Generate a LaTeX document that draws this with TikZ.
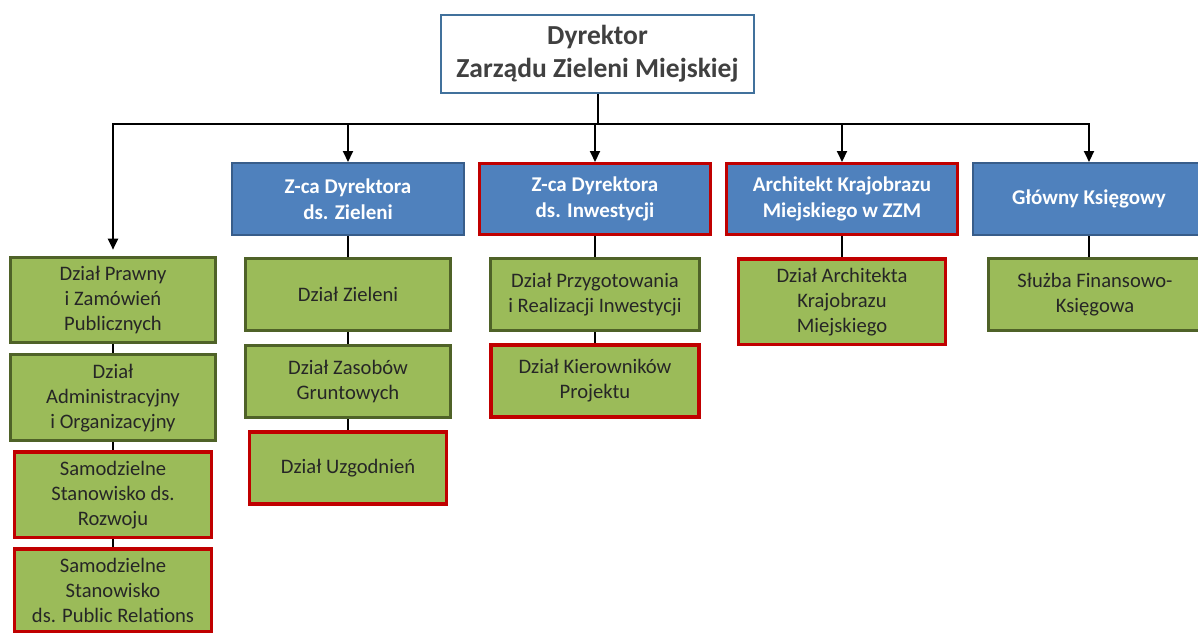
\documentclass[tikz,border=0pt]{standalone}
\usepackage{fontspec}
\setmainfont{Carlito}
\usepackage{tikz}
\usetikzlibrary{positioning,arrows.meta}
\usepackage{xcolor}
\definecolor{DirBlue}{RGB}{65,113,156}
\definecolor{HeadBlue}{RGB}{79,129,189}
\definecolor{HeadEdge}{RGB}{56,93,138}
\definecolor{UnitGreen}{RGB}{155,187,89}
\definecolor{UnitEdge}{RGB}{79,98,40}
\definecolor{RedLine}{RGB}{192,0,0}
\definecolor{DirText}{RGB}{64,64,64}

\begin{document}
\begin{tikzpicture}[x=1pt, y=-1pt,
    director/.style={rectangle, draw=DirBlue, line width=2.5pt, fill=white,
        minimum width=313pt, minimum height=78pt, align=center, text=DirText,
        font=\bfseries\fontsize{27.5}{33}\selectfont},
    head/.style={rectangle, draw=HeadEdge, line width=2pt, fill=HeadBlue,
        minimum width=232pt, minimum height=72pt, align=center, text=white,
        font=\bfseries\fontsize{21}{26}\selectfont},
    redhead/.style={head, draw=RedLine, line width=3pt, minimum width=231pt, minimum height=71pt},
    unit/.style={rectangle, draw=UnitEdge, line width=3pt, fill=UnitGreen,
        minimum width=205pt, minimum height=72pt, inner xsep=5pt, inner ysep=9pt,
        align=center, text=black!85, font=\fontsize{20.6}{25}\selectfont},
    redunit/.style={unit, draw=RedLine, line width=3.5pt},
    conn/.style={line width=2pt, black},
    arr/.style={-{Triangle[length=11pt, width=10pt]}, line width=2pt, black},
]
\useasboundingbox (0,0) rectangle (1198,634);

\node[director] (dyr) at (597.5,54) {Dyrektor\\Zarządu Zieleni Miejskiej};

\node[head] (zieleni) at (348,199) {Z-ca Dyrektora\\ds. Zieleni};
\node[redhead, right=13pt of zieleni] (inwest) {Z-ca Dyrektora\\ds. Inwestycji};
\node[redhead, right=13pt of inwest] (arch) {Architekt Krajobrazu\\Miejskiego w ZZM};
\node[head, right=13pt of arch] (glowny) {Główny Księgowy};

\node[unit] (prawny) at (113,300) {Dział Prawny\\i Zamówień\\Publicznych};
\node[unit, below=9pt of prawny] (admin) {Dział\\Administracyjny\\i Organizacyjny};
\node[redunit, minimum width=197pt, below=8pt of admin] (rozwoj) {Samodzielne\\Stanowisko ds.\\Rozwoju};
\node[redunit, minimum width=197pt, below=8pt of rozwoj] (pr) {Samodzielne\\Stanowisko\\ds. Public Relations};

\node[unit, below=21pt of zieleni] (dzielen) {Dział Zieleni};
\node[unit, below=12pt of dzielen] (zasob) {Dział Zasobów\\Gruntowych};
\node[redunit, minimum width=197pt, below=11pt of zasob] (uzgod) {Dział Uzgodnień};

\node[unit, minimum width=209pt, below=21pt of inwest] (przyg) {Dział Przygotowania\\i Realizacji Inwestycji};
\node[redunit, minimum width=208pt, below=11pt of przyg] (kier) {Dział Kierowników\\Projektu};

\node[redunit, minimum width=207pt, below=21pt of arch] (darch) {Dział Architekta\\Krajobrazu\\Miejskiego};

\node[unit, minimum width=214pt, below=21pt of glowny, xshift=6pt] (sluzba) {Służba Finansowo-\\Księgowa};

% szyna od dyrektora
\coordinate (bus) at (597,124);
\draw[conn] (dyr.south) -- (dyr.south |- bus);
\draw[arr, shorten >=6pt] (bus) -| (prawny.north);
\draw[arr] (bus) -| (glowny.north);
\foreach \n in {zieleni, inwest, arch}
    \draw[arr] (\n.north |- bus) -- (\n.north);

% piony w kolumnach
\draw[conn] (prawny) -- (admin);
\draw[conn] (admin) -- (rozwoj);
\draw[conn] (rozwoj) -- (pr);
\draw[conn] (zieleni) -- (dzielen);
\draw[conn] (dzielen) -- (zasob);
\draw[conn] (zasob) -- (uzgod);
\draw[conn] (inwest) -- (przyg);
\draw[conn] (przyg) -- (kier);
\draw[conn] (arch) -- (darch);
\draw[conn] (glowny.south) -- (glowny.south |- sluzba.north);
\end{tikzpicture}
\end{document}
